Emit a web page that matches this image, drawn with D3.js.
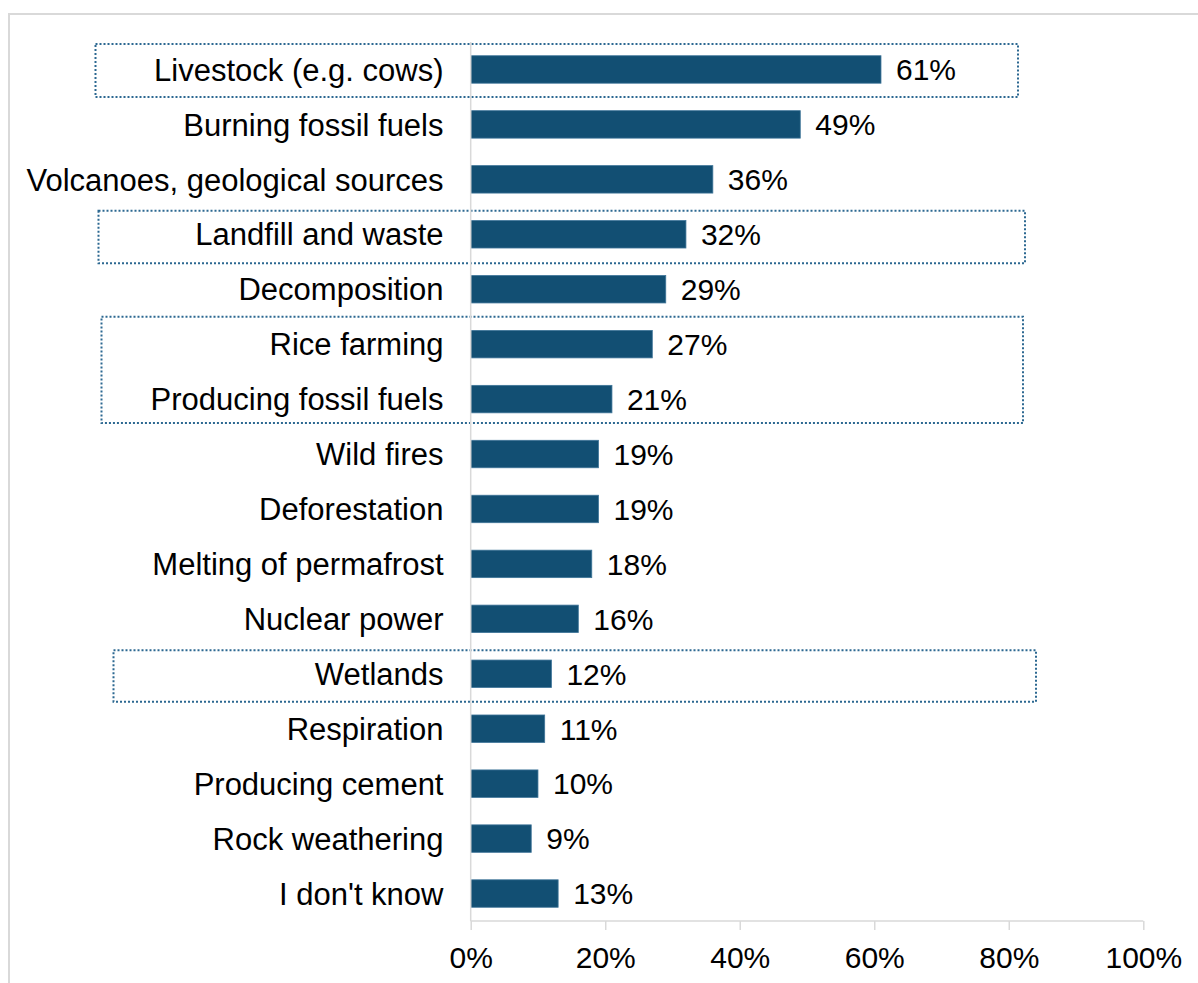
<!DOCTYPE html>
<html>
<head>
<meta charset="utf-8">
<script src="https://cdn.jsdelivr.net/npm/d3@7"></script>
<style>
  html, body { margin: 0; padding: 0; background: #ffffff; }
  svg { display: block; }
  text { font-family: "Liberation Sans", Arial, sans-serif; fill: #000000; }
</style>
</head>
<body>
<svg id="chart" width="1198" height="983"></svg>
<script>
// Perceived sources of methane emissions (share of respondents)
const categories = [
  "Livestock (e.g. cows)",
  "Burning fossil fuels",
  "Volcanoes, geological sources",
  "Landfill and waste",
  "Decomposition",
  "Rice farming",
  "Producing fossil fuels",
  "Wild fires",
  "Deforestation",
  "Melting of permafrost",
  "Nuclear power",
  "Wetlands",
  "Respiration",
  "Producing cement",
  "Rock weathering",
  "I don't know"
];
const values = [61, 49, 36, 32, 29, 27, 21, 19, 19, 18, 16, 12, 11, 10, 9, 13];
const xTicks = [0, 20, 40, 60, 80, 100];

// Correct (major) sources, outlined with dotted frames
const highlightGroups = [
  ["Livestock (e.g. cows)"],
  ["Landfill and waste"],
  ["Rice farming", "Producing fossil fuels"],
  ["Wetlands"]
];

const svg = d3.select("#chart");
const FONT = 30;
const LABEL_FONT = 31;
const barColor = "#124f73";
const axisColor = "#d9d9d9";
const frameColor = "#2c6891";

// Chart area border
svg.append("rect")
  .attr("x", 9).attr("y", 14)
  .attr("width", 1260).attr("height", 1040)
  .attr("fill", "none")
  .attr("stroke", axisColor)
  .attr("stroke-width", 2);

const x = d3.scaleLinear().domain([0, 100]).range([470.7, 1143.3]);
const y = d3.scaleBand().domain(categories).range([42, 921])
  .paddingInner(0.5).paddingOuter(0.25);

// Dotted highlight frames (horizontal extent per frame, vertical from the band scale)
const frameExtents = [
  { left: 95.5,  right: 1018, top: 25.5, bottom: 27.5 },
  { left: 98.5,  right: 1025, top: 23.5, bottom: 29 },
  { left: 101.5, right: 1023, top: 27.5, bottom: 24 },
  { left: 113.5, right: 1036, top: 23.5, bottom: 28 }
];
highlightGroups.forEach((group, i) => {
  const e = frameExtents[i];
  const c0 = y(group[0]) + y.bandwidth() / 2;
  const c1 = y(group[group.length - 1]) + y.bandwidth() / 2;
  svg.append("rect")
    .attr("x", e.left)
    .attr("y", c0 - e.top)
    .attr("width", e.right - e.left)
    .attr("height", (c1 + e.bottom) - (c0 - e.top))
    .attr("fill", "none")
    .attr("stroke", frameColor)
    .attr("stroke-width", 2)
    .attr("stroke-dasharray", "2 2");
});

// Bars
svg.append("g").selectAll("rect")
  .data(values)
  .join("rect")
  .attr("x", x(0))
  .attr("y", (d, i) => y(categories[i]))
  .attr("width", d => x(d) - x(0))
  .attr("height", y.bandwidth())
  .attr("fill", barColor)
  .attr("stroke", "#3f7599")
  .attr("stroke-width", 0.8);

// Value labels
svg.append("g").selectAll("text")
  .data(values)
  .join("text")
  .attr("x", d => x(d) + 15)
  .attr("y", (d, i) => y(categories[i]) + y.bandwidth() / 2)
  .attr("dy", "0.36em")
  .style("font-size", FONT + "px")
  .text(d => d + "%");

// Category labels
svg.append("g").selectAll("text")
  .data(categories)
  .join("text")
  .attr("x", 443.5)
  .attr("y", d => y(d) + y.bandwidth() / 2)
  .attr("dy", "0.36em")
  .attr("text-anchor", "end")
  .style("font-size", LABEL_FONT + "px")
  .text(d => d);

// Vertical category axis line
svg.append("line")
  .attr("x1", x(0)).attr("x2", x(0))
  .attr("y1", 42).attr("y2", 921)
  .attr("stroke", axisColor).attr("stroke-width", 1.5);

// Value axis
const xAxis = d3.axisBottom(x)
  .tickValues(xTicks)
  .tickFormat(d => d + "%")
  .tickSize(9)
  .tickPadding(16.7);

const gx = svg.append("g")
  .attr("transform", "translate(0,921)")
  .call(xAxis);
gx.select(".domain")
  .attr("stroke", axisColor).attr("stroke-width", 1.5)
  .attr("d", `M${x(0)},0H${x(100)}`);
gx.selectAll(".tick line").attr("stroke", axisColor).attr("stroke-width", 1.5);
gx.selectAll(".tick text")
  .attr("fill", "#000")
  .style("font-family", "'Liberation Sans', Arial, sans-serif")
  .style("font-size", FONT + "px");
</script>
</body>
</html>
